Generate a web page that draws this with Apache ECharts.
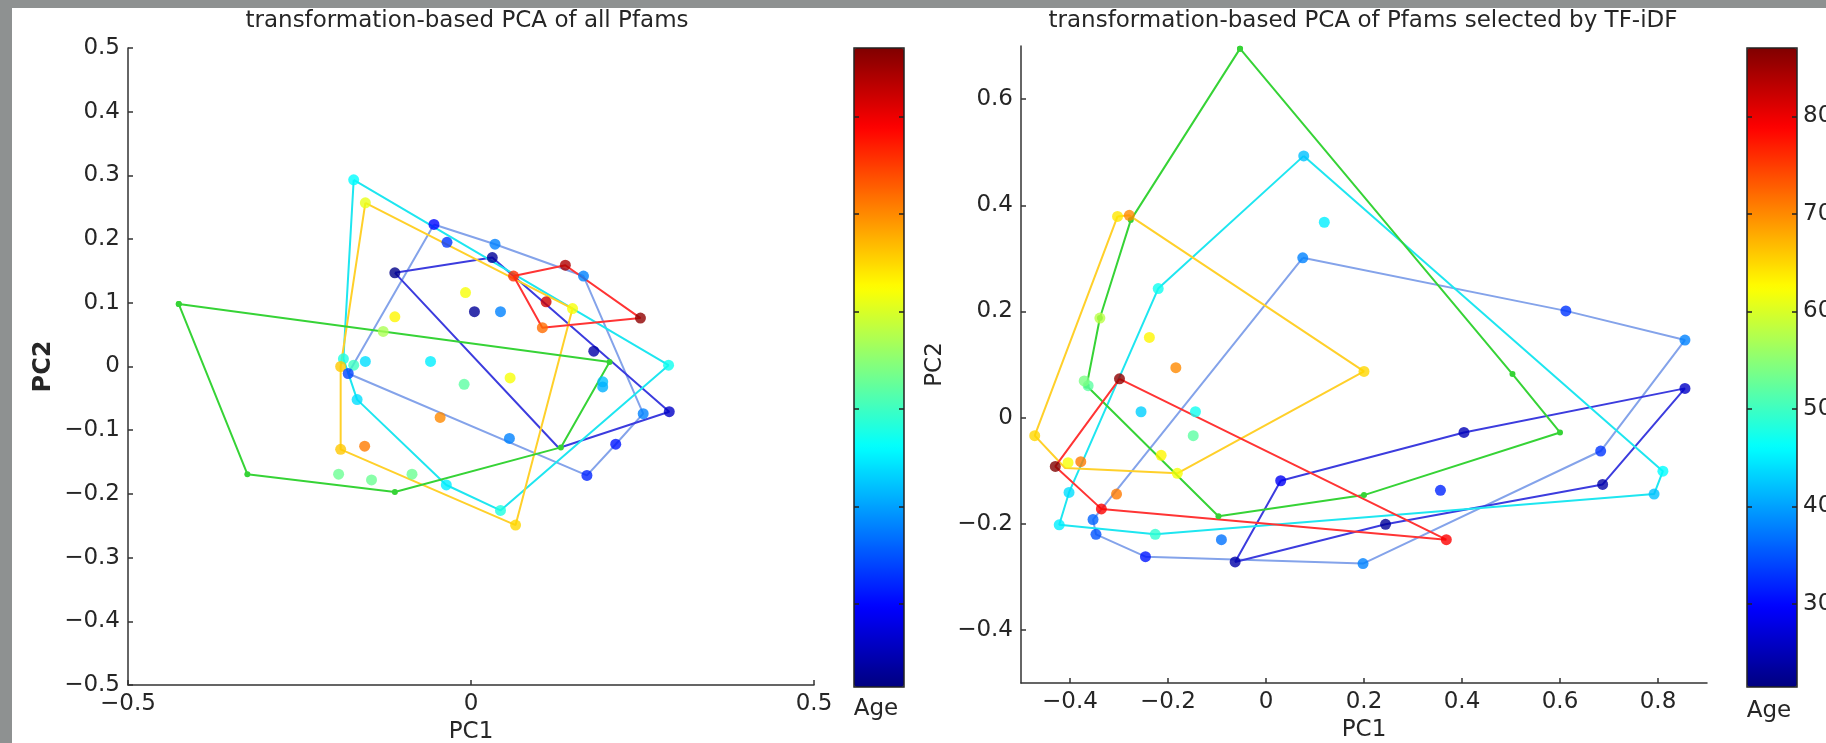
<!DOCTYPE html>
<html>
<head>
<meta charset="utf-8">
<title>transformation-based PCA</title>
<script src="https://cdn.jsdelivr.net/npm/echarts@6/dist/echarts.min.js"></script>
<style>
html,body{margin:0;padding:0;background:#8e9191;}
#main{width:1826px;height:743px;}
</style>
</head>
<body>
<div id="main"></div>
<script type="text/javascript">
// jet colormap, age range of the colour bar
var jet = ['#000080','#0000ff','#0080ff','#00ffff','#80ff80','#ffff00','#ff8000','#ff0000','#800000'];
var ageMin = 21.5, ageMax = 87;
var ageTicks = [30, 40, 50, 60, 70, 80];

var rightXTicks = [-0.4, -0.2, 0, 0.2, 0.4, 0.6, 0.8];
var rightYTicks = [-0.4, -0.2, 0, 0.2, 0.4, 0.6];

// ---- left panel: all Pfams ----
var leftGreenHull  = [[-0.426,0.098],[-0.326,-0.169],[-0.111,-0.197],[0.131,-0.127],[0.202,0.007]];
var leftCyanHull   = [[-0.171,0.293],[0.288,0.002],[0.043,-0.226],[-0.036,-0.186],[-0.166,-0.052],[-0.186,0.012]];
var leftGoldHull   = [[-0.154,0.257],[0.148,0.091],[0.065,-0.249],[-0.190,-0.130],[-0.190,0.0]];
var leftSteelHull  = [[-0.054,0.223],[0.035,0.192],[0.164,0.142],[0.251,-0.074],[0.211,-0.122],[0.169,-0.171],[-0.179,-0.011]];
var leftIndigoHull = [[-0.111,0.147],[0.031,0.171],[0.289,-0.071],[0.128,-0.128]];
var leftRedHull    = [[0.062,0.142],[0.1375,0.159],[0.247,0.076],[0.104,0.061]];

// [PC1, PC2, age]
var leftPoints = [
  [-0.128,0.055,57],[-0.193,-0.169,53],[-0.145,-0.178,53],[-0.086,-0.169,53],[-0.010,-0.028,52],
  [-0.171,0.293,46],[0.288,0.002,47],[0.043,-0.226,48],[-0.036,-0.186,45],[-0.166,-0.052,44],
  [-0.186,0.012,48],[-0.171,0.002,50],[-0.154,0.008,44],[-0.059,0.008,45],[0.192,-0.024,42],[0.192,-0.032,41],
  [-0.154,0.257,61],[0.148,0.091,62],[0.065,-0.249,65],[-0.190,-0.130,66],[-0.190,0.0,66],
  [-0.111,0.078,63],[-0.008,0.116,62],[0.057,-0.018,62],[-0.045,-0.080,70],[-0.155,-0.125,71],
  [-0.054,0.223,30],[0.035,0.192,38],[0.164,0.142,38],[0.251,-0.074,38],[0.211,-0.122,31],
  [0.169,-0.171,32],[-0.179,-0.011,34],[-0.035,0.195,33],[0.043,0.086,38],[0.056,-0.113,38],
  [-0.111,0.147,22],[0.031,0.171,23],[0.289,-0.071,26],[0.005,0.086,23],[0.179,0.024,24],
  [0.062,0.142,76],[0.1375,0.159,84],[0.247,0.076,86],[0.104,0.061,72],[0.1095,0.1015,82]
];

// ---- right panel: Pfams selected by TF-iDF ----
var rightGreenHull  = [[-0.053,0.695],[0.503,0.082],[0.600,-0.028],[0.200,-0.146],[-0.097,-0.186],[-0.366,0.060],[-0.339,0.1875],[-0.276,0.372]];
var rightCyanHull   = [[0.077,0.493],[0.810,-0.101],[0.792,-0.144],[-0.226,-0.220],[-0.422,-0.202],[-0.402,-0.141],[-0.220,0.243]];
var rightGoldHull   = [[-0.303,0.379],[-0.279,0.381],[0.200,0.087],[-0.181,-0.105],[-0.410,-0.095],[-0.472,-0.034]];
var rightSteelHull  = [[0.075,0.301],[0.612,0.201],[0.855,0.146],[0.683,-0.063],[0.198,-0.275],[-0.246,-0.262],[-0.347,-0.220],[-0.353,-0.192]];
var rightIndigoHull = [[0.030,-0.119],[0.404,-0.028],[0.855,0.055],[0.687,-0.126],[0.244,-0.201],[-0.063,-0.272]];
var rightRedHull    = [[-0.299,0.073],[0.368,-0.230],[-0.336,-0.172],[-0.430,-0.092]];

var rightPoints = [
  [-0.363,0.060,52],[-0.371,0.069,54],[-0.339,0.1875,58],[-0.1485,-0.034,52],[-0.144,0.011,47],
  [0.077,0.493,42],[0.810,-0.101,46],[0.792,-0.144,42],[-0.226,-0.220,49],[-0.422,-0.202,45],
  [-0.402,-0.141,44],[-0.220,0.243,47],[0.119,0.368,45],[-0.255,0.011,43],
  [-0.303,0.379,64],[-0.279,0.381,70],[0.200,0.087,65],[-0.181,-0.105,62],[-0.404,-0.085,62],
  [-0.472,-0.034,65],[-0.238,0.151,63],[-0.184,0.094,70],[-0.214,-0.071,63],[-0.378,-0.083,71],[-0.305,-0.144,71],
  [-0.299,0.073,86],[0.368,-0.230,79],[-0.336,-0.172,79],[-0.430,-0.092,87],
  [0.075,0.301,38],[0.612,0.201,33],[0.855,0.146,38],[0.683,-0.063,33],[0.198,-0.275,38],
  [-0.246,-0.262,31],[-0.347,-0.220,35],[-0.353,-0.192,36],[-0.091,-0.230,37],[0.356,-0.137,32],
  [0.030,-0.119,29],[0.404,-0.028,25],[0.855,0.055,26],[0.687,-0.126,24],[0.244,-0.201,23],[-0.063,-0.272,24]
];

var hullColors = {green:'#36d336', cyan:'#1ee6f0', gold:'#ffd02a', steel:'#84a3ea', indigo:'#3c3cde', red:'#ff3434'};

var FONT = 'DejaVu Sans';
var TXT = '#262626';
var FS = 23;

function minus(v){ return String(v).replace('-', '\u2212'); }

function closeRing(pts){ return pts.concat([pts[0]]); }

function hull(pts, color, gi, dots){
  return {
    type: 'line', xAxisIndex: gi, yAxisIndex: gi,
    data: closeRing(pts),
    showSymbol: !!dots, symbol: 'circle', symbolSize: 6,
    lineStyle: {color: color, width: 2},
    itemStyle: {color: color},
    z: 2, silent: true
  };
}

function plotX(gi, extra){
  var a = {
    type: 'value', gridIndex: gi, name: 'PC1', nameLocation: 'middle', nameGap: 34,
    nameTextStyle: {fontFamily: FONT, fontSize: FS, color: TXT},
    axisLine: {onZero: false, lineStyle: {color: '#333', width: 1.5}},
    axisTick: {inside: true, length: 5, lineStyle: {color: '#333', width: 1.5}},
    axisLabel: {fontFamily: FONT, fontSize: FS, color: TXT, margin: 8, formatter: minus, showMinLabel: true, showMaxLabel: true},
    splitLine: {show: false}
  };
  return Object.assign(a, extra);
}
function plotY(gi, extra){
  var a = {
    type: 'value', gridIndex: gi, name: 'PC2', nameLocation: 'middle', nameGap: 72,
    nameTextStyle: {fontFamily: FONT, fontSize: FS, color: TXT},
    axisLine: {onZero: false, lineStyle: {color: '#333', width: 1.5}},
    axisTick: {inside: true, length: 5, lineStyle: {color: '#333', width: 1.5}},
    axisLabel: {fontFamily: FONT, fontSize: FS, color: TXT, margin: 8, formatter: minus, showMinLabel: true, showMaxLabel: true},
    splitLine: {show: false}
  };
  return Object.assign(a, extra);
}
function cbY(gi, pos, labels){
  return {
    type: 'value', gridIndex: gi, position: pos, min: ageMin, max: ageMax, z: 10,
    axisLine: {show: false},
    axisTick: {inside: true, length: 5, customValues: ageTicks, lineStyle: {color: '#222', width: 1.5}},
    axisLabel: {show: labels, customValues: ageTicks, fontFamily: FONT, fontSize: FS, color: TXT, margin: 6},
    splitLine: {show: false}
  };
}
function cbX(gi){
  return {type: 'value', gridIndex: gi, min: 0, max: 1, show: false};
}

var myChart = echarts.init(document.getElementById('main'));

var option = {
  animation: false,
  backgroundColor: '#8e9191',
  graphic: [{
    type: 'rect', left: 12, top: 8, z: -10,
    shape: {width: 1814, height: 735},
    style: {fill: '#ffffff'}
  }],
  title: [
    {text: 'transformation-based PCA of all Pfams', left: 467, top: 10, textAlign: 'center', padding: 0,
     textStyle: {fontFamily: FONT, fontSize: 23, fontWeight: 'normal', color: TXT}},
    {text: 'transformation-based PCA of Pfams selected by TF-iDF', left: 1363, top: 10, textAlign: 'center', padding: 0,
     textStyle: {fontFamily: FONT, fontSize: 23, fontWeight: 'normal', color: TXT}},
    {text: 'Age', left: 876, top: 698, textAlign: 'center', padding: 0,
     textStyle: {fontFamily: FONT, fontSize: FS, fontWeight: 'normal', color: TXT}},
    {text: 'Age', left: 1769, top: 700, textAlign: 'center', padding: 0,
     textStyle: {fontFamily: FONT, fontSize: FS, fontWeight: 'normal', color: TXT}}
  ],
  grid: [
    {left: 128, top: 48, width: 686, height: 637, outerBoundsMode: 'none'},
    {left: 1021, top: 46, width: 686, height: 637, outerBoundsMode: 'none'},
    {left: 854, top: 48, width: 50, height: 639, outerBoundsMode: 'none', show: true, borderColor: '#222', borderWidth: 1.5, backgroundColor: 'transparent', z: 10},
    {left: 1747, top: 48, width: 50, height: 639, outerBoundsMode: 'none', show: true, borderColor: '#222', borderWidth: 1.5, backgroundColor: 'transparent', z: 10}
  ],
  xAxis: [
    plotX(0, {min: -0.5, max: 0.5, interval: 0.5}),
    plotX(1, {min: -0.5, max: 0.9,
      axisTick: {inside: true, length: 5, customValues: rightXTicks, lineStyle: {color: '#333', width: 1.5}},
      axisLabel: {fontFamily: FONT, fontSize: FS, color: TXT, margin: 8, formatter: minus, customValues: rightXTicks}}),
    cbX(2), cbX(3)
  ],
  yAxis: [
    plotY(0, {min: -0.5, max: 0.5, interval: 0.1,
      nameTextStyle: {fontFamily: FONT, fontSize: 24, fontWeight: 'bold', color: TXT}}),
    plotY(1, {min: -0.5, max: 0.7, nameGap: 74,
      axisTick: {inside: true, length: 5, customValues: rightYTicks, lineStyle: {color: '#333', width: 1.5}},
      axisLabel: {fontFamily: FONT, fontSize: FS, color: TXT, margin: 8, formatter: minus, customValues: rightYTicks}}),
    cbY(2, 'left', false), cbY(2, 'right', false),
    cbY(3, 'left', false), cbY(3, 'right', true)
  ],
  visualMap: [
    {type: 'continuous', min: ageMin, max: ageMax, dimension: 2, seriesIndex: 6,
     left: 854, top: 48, itemWidth: 50, itemHeight: 639, padding: 0, text: null,
     calculable: false, showLabel: false, hoverLink: false, inRange: {color: jet}},
    {type: 'continuous', min: ageMin, max: ageMax, dimension: 2, seriesIndex: 13,
     left: 1747, top: 48, itemWidth: 50, itemHeight: 639, padding: 0, text: null,
     calculable: false, showLabel: false, hoverLink: false, inRange: {color: jet}}
  ],
  series: [
    hull(leftSteelHull, hullColors.steel, 0),
    hull(leftIndigoHull, hullColors.indigo, 0),
    hull(leftCyanHull, hullColors.cyan, 0),
    hull(leftGoldHull, hullColors.gold, 0),
    hull(leftGreenHull, hullColors.green, 0, true),
    hull(leftRedHull, hullColors.red, 0),
    {type: 'scatter', xAxisIndex: 0, yAxisIndex: 0, data: leftPoints, symbolSize: 11, z: 3, silent: true},
    hull(rightSteelHull, hullColors.steel, 1),
    hull(rightIndigoHull, hullColors.indigo, 1),
    hull(rightCyanHull, hullColors.cyan, 1),
    hull(rightGoldHull, hullColors.gold, 1),
    hull(rightGreenHull, hullColors.green, 1, true),
    hull(rightRedHull, hullColors.red, 1),
    {type: 'scatter', xAxisIndex: 1, yAxisIndex: 1, data: rightPoints, symbolSize: 11, z: 3, silent: true}
  ]
};

myChart.setOption(option);
</script>
</body>
</html>
